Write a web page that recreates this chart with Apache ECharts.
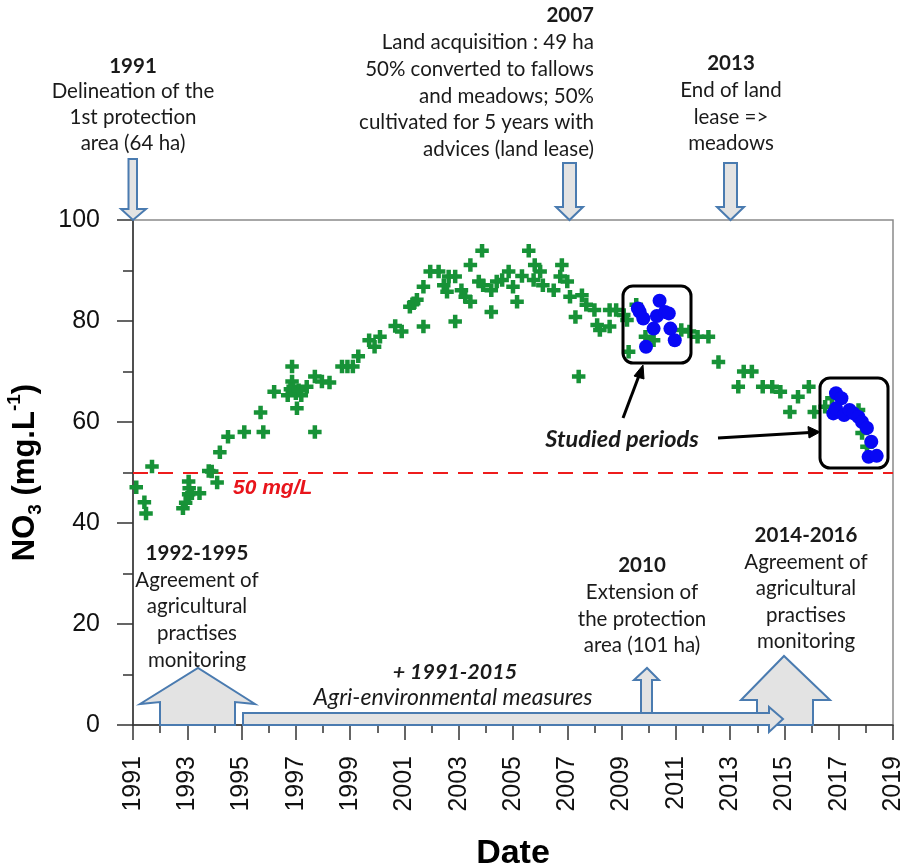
<!DOCTYPE html>
<html>
<head>
<meta charset="utf-8">
<script src="https://cdn.jsdelivr.net/npm/echarts@6/dist/echarts.min.js"></script>
<style>html,body{margin:0;padding:0;background:#fff;}#c{width:901px;height:868px;}</style>
</head>
<body>
<div id="c"></div>
<script>
// ---- data (year, NO3 mg/L) ----
const nitrateAll = [
[1991.12,47.1],[1991.42,44.1],[1991.48,41.9],[1991.7,51.2],
[1992.84,42.9],[1992.94,44],[1993.05,48.2],[1993.07,46.9],[1993.05,45.7],[1993.17,45.9],[1993.45,45.9],[1993.79,50.3],[1993.9,50.2],[1994.1,48],
[1994.2,54],[1994.5,57.1],[1995.1,58],[1995.7,61.9],[1995.8,58],[1996.2,66],
[1996.86,71],[1996.86,68],[1996.9,67],[1996.7,65.3],[1997.0,65.7],[1997.2,65.3],[1997.04,62.7],[1996.8,66.5],[1997.1,66.3],[1997.4,67],[1997.7,69],[1997.7,58],[1997.96,68],[1998.24,67.8],
[1998.7,71],[1998.9,71],[1999.1,71],[1999.3,73],[1999.7,76.2],[1999.9,74.9],[2000.1,76.9],[2000.66,79],[2000.9,77.9],[2001.2,82.8],[2001.34,83.5],[2001.46,84.2],[2001.7,78.9],[2001.7,86.8],
[2001.95,89.8],[2002.26,89.8],[2002.45,87.1],[2002.57,85.8],[2002.63,88.8],[2002.87,88.8],[2002.87,79.9],[2003.1,86.1],[2003.24,84.8],[2003.43,83.8],[2003.43,91.1],[2003.86,93.9],[2003.74,87.8],[2003.9,87.1],
[2004.2,86.1],[2004.2,81.8],[2004.4,87.8],[2004.6,88.1],[2004.84,89.8],[2005.0,86.8],[2005.15,83.8],[2005.33,88.9],[2005.58,93.9],[2005.76,88.1],[2005.8,91.1],[2006.0,89.8],[2006.1,87.1],[2006.5,86.1],
[2006.74,88.8],[2006.8,91.1],[2007.0,87.8],[2007.1,84.8],[2007.3,80.8],[2007.42,69],[2007.54,85.1],[2007.7,83.2],[2008.0,82.2],[2008.1,79.2],[2008.2,78.2],[2008.56,82.2],[2008.56,78.9],[2008.8,82.2],
[2009.08,81.2],[2009.2,80.2],[2009.26,73.9],[2009.54,83.2],[2009.88,76.9],[2010.18,76.2],[2011.2,78.2],[2011.5,77.9],[2011.8,76.9],[2012.2,76.9],[2012.57,71.9],
[2013.3,67],[2013.5,70],[2013.8,70],[2014.2,67],[2014.55,67],[2014.85,66],[2015.2,62],[2015.5,65],[2015.9,67],[2016.1,62],[2016.5,63],[2016.75,64.7],[2017.73,62.4],[2017.86,57.8],[2018.04,55.1]
];
const nitrateStudied = [
[2009.67,81.8],[2009.6,82.5],[2009.8,80.5],[2009.9,74.9],[2010.18,78.5],[2010.3,81],[2010.4,84],[2010.6,81.8],[2010.74,81.5],[2010.8,78.5],[2010.96,76.2],
[2016.9,65.7],[2017.1,64.7],[2016.8,61.7],[2016.9,62.7],[2017.2,61.4],[2017.4,62.4],[2017.55,61.7],[2017.73,61],[2017.86,60],[2018.04,58.8],[2018.2,56.1],[2018.1,53.1],[2018.4,53.3]
];
const threshold = 50;
const xRange = [1991, 2019];
const yRange = [0, 100];

const chart = echarts.init(document.getElementById('c'));
const AR = 'Liberation Sans, Arial, sans-serif';
const AN = 'Lato, Open Sans, sans-serif';
const plus = 'path://M4,0H8V4H12V8H8V12H4V8H0V4H4Z';
const arrowStyle = {fill:'#e3e3e3', stroke:'#4a7bb0', lineWidth:2};

function txt(x, y, t, opt) {
  return {type:'text', x:x, y:y, z:50, style:Object.assign({text:t, fontFamily:AN, fontSize:20.5, fill:'#1a1a1a', align:'center', verticalAlign:'middle'}, opt||{})};
}
function poly(pts, z) { return {type:'polygon', z:z||20, shape:{points:pts}, style:arrowStyle}; }
function head(pts) { return {type:'polygon', z:41, shape:{points:pts}, style:{fill:'#000', stroke:'#000', lineWidth:1}}; }

const graphics = [
  // top annotations
  txt(133, 66, '1991', {fontWeight:'bold'}),
  txt(133, 91, 'Delineation of the'),
  txt(133, 117, '1st protection'),
  txt(133, 143, 'area (64 ha)'),
  poly([[128.5,159],[137,159],[137,209],[146,209],[133,220],[121,209],[128.5,209]]),

  txt(594, 15, '2007', {fontWeight:'bold', align:'right'}),
  txt(594, 42, 'Land acquisition : 49 ha', {align:'right'}),
  txt(594, 69, '50% converted to fallows', {align:'right'}),
  txt(594, 96, 'and meadows; 50%', {align:'right'}),
  txt(594, 122, 'cultivated for 5 years with', {align:'right'}),
  txt(594, 149, 'advices (land lease)', {align:'right'}),
  poly([[563,163],[576,163],[576,207],[583,207],[569.5,220],[556,207],[563,207]]),

  txt(731, 63, '2013', {fontWeight:'bold'}),
  txt(731, 90, 'End of land'),
  txt(731, 117, 'lease =>'),
  txt(731, 143, 'meadows'),
  poly([[724,163],[737,163],[737,207],[744,207],[730.5,220],[717,207],[724,207]]),

  // bottom annotations
  txt(197, 553, '1992-1995', {fontWeight:'bold'}),
  txt(197, 580, 'Agreement of'),
  txt(197, 606, 'agricultural'),
  txt(197, 633, 'practises'),
  txt(197, 660, 'monitoring'),
  poly([[160,725],[160,702],[140,704],[198,668],[255,704],[235,702],[235,725]]),

  txt(642, 565, '2010', {fontWeight:'bold'}),
  txt(642, 592, 'Extension of'),
  txt(642, 619, 'the protection'),
  txt(642, 645, 'area (101 ha)'),

  txt(806, 535, '2014-2016', {fontWeight:'bold'}),
  txt(806, 562, 'Agreement of'),
  txt(806, 588, 'agricultural'),
  txt(806, 615, 'practises'),
  txt(806, 641, 'monitoring'),
  poly([[757,725],[757,700],[741,700],[784,656],[830,700],[813,700],[813,725]], 20),

  poly([[243,713],[769,713],[769,707],[783,719],[769,732],[769,725],[243,725]], 22),
  poly([[641,713],[641,680],[634,680],[647,668],[659,680],[652,680],[652,713]], 23),

  txt(455, 672, '+ 1991-2015', {fontWeight:'bold', fontStyle:'italic', fontSize:21.5}),
  txt(453, 698, 'Agri-environmental measures', {fontStyle:'italic', fontSize:23}),

  // threshold label
  {type:'text', x:233, y:488, z:50, style:{text:'50 mg/L', fontFamily:AR, fontSize:21, fontWeight:'bold', fontStyle:'italic', fill:'#e8141b', verticalAlign:'middle'}},

  // studied period boxes
  {type:'rect', z:40, shape:{x:623, y:286, width:68, height:77, r:10}, style:{fill:'none', stroke:'#000', lineWidth:3}},
  {type:'rect', z:40, shape:{x:820, y:378, width:68, height:90, r:10}, style:{fill:'none', stroke:'#000', lineWidth:3}},
  txt(622, 439, 'Studied periods', {fontWeight:'bold', fontStyle:'italic', fontSize:23.5}),
  {type:'line', z:40, shape:{x1:623, y1:418, x2:640, y2:373}, style:{stroke:'#000', lineWidth:3}},
  head([[643,365],[634,376],[644,379]]),
  {type:'line', z:40, shape:{x1:718, y1:438, x2:810, y2:432.5}, style:{stroke:'#000', lineWidth:3}},
  head([[820,432],[808,426.5],[809,438]])
];

chart.setOption({
  animation:false,
  backgroundColor:'#fff',
  grid:{left:133, right:8, top:220, bottom:143, show:true, borderColor:'#8a8a8a', borderWidth:1.5, containLabel:false, outerBoundsMode:'none'},
  xAxis:{
    type:'value', min:xRange[0], max:xRange[1], interval:2,
    name:'Date', nameLocation:'middle', nameGap:112,
    nameTextStyle:{fontFamily:AR, fontSize:34, fontWeight:'bold', color:'#000'},
    axisLine:{lineStyle:{color:'#333', width:1.5}},
    axisTick:{show:true, inside:false, length:15, lineStyle:{color:'#333', width:1.5}},
    minorTick:{show:true, splitNumber:2, length:8, lineStyle:{color:'#333', width:1.5}},
    splitLine:{show:false},
    axisLabel:{rotate:90, margin:31, fontFamily:AR, fontSize:25, color:'#111', formatter:v=>String(v)}
  },
  yAxis:{
    type:'value', min:yRange[0], max:yRange[1], interval:20,
    name:'{b|NO}{s|3}{b| (mg.L}{p|-1}{b|)}', nameLocation:'middle', nameRotate:90, nameGap:88,
    nameTextStyle:{
      rich:{
        b:{fontFamily:AR, fontSize:31, fontWeight:'bold', color:'#000', lineHeight:40, verticalAlign:'middle'},
        s:{fontFamily:AR, fontSize:19, fontWeight:'bold', color:'#000', lineHeight:40, verticalAlign:'bottom'},
        p:{fontFamily:AR, fontSize:19, fontWeight:'bold', color:'#000', lineHeight:40, verticalAlign:'top'}
      }
    },
    axisLine:{show:true, lineStyle:{color:'#333', width:1.5}},
    axisTick:{show:true, inside:false, length:16, lineStyle:{color:'#333', width:1.5}},
    minorTick:{show:true, splitNumber:2, length:10, lineStyle:{color:'#333', width:1.5}},
    splitLine:{show:false},
    axisLabel:{margin:33, fontFamily:AR, fontSize:25, color:'#111'}
  },
  series:[
    {
      type:'scatter', name:'NO3', data:nitrateAll, symbol:plus, symbolSize:13.5, z:5,
      itemStyle:{color:'#179237', opacity:1},
      markLine:{
        silent:true, symbol:'none', label:{show:false},
        lineStyle:{color:'#ee1c1c', width:1.8, type:[15,10]},
        data:[{yAxis:threshold}]
      }
    },
    {
      type:'scatter', name:'Studied', data:nitrateStudied, symbol:'circle', symbolSize:14, z:6,
      itemStyle:{color:'#0808f5', opacity:1}
    }
  ],
  graphic:graphics
});
</script>
</body>
</html>
